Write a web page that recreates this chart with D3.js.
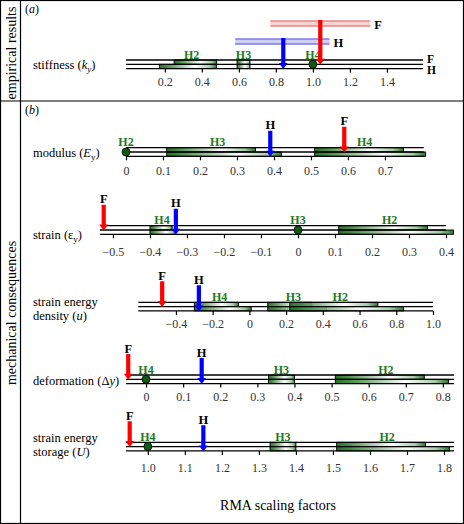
<!DOCTYPE html>
<html><head><meta charset="utf-8">
<script src="https://cdn.jsdelivr.net/npm/d3@7"></script>
<style>
html,body{margin:0;padding:0;background:#fff;}
svg{display:block;}
text{font-family:"Liberation Serif","DejaVu Serif","Times New Roman",serif;}
</style></head>
<body>
<script>
// ---------------- DATA ----------------
// bars: [group, lane, low, high]; points: [group, value]; arrows: [lane, value]
const stiffTicks = [0.2,0.4,0.6,0.8,1.0,1.2,1.4];
const stiffTickLabels = ["0.2","0.4","0.6","0.8","1.0","1.2","1.4"];
const stiffBars = [["H2","F",0.25,0.48],["H2","H",0.17,0.48],["H3","F",0.59,0.66],["H3","H",0.59,0.66]];
const stiffPoints = [["H4",1.0]];
const stiffArrows = [["F",1.04],["H",0.84]];
const stiffCI = [["F",0.77,1.31],["H",0.58,1.09]];

const modTicks = [0,0.1,0.2,0.3,0.4,0.5,0.6,0.7];
const modTickLabels = ["0","0.1","0.2","0.3","0.4","0.5","0.6","0.7"];
const modBars = [["H3","F",0.11,0.35],["H3","H",0.11,0.42],["H4","F",0.51,0.75],["H4","H",0.51,0.81]];
const modPoints = [["H2",0]];
const modArrows = [["F",0.59],["H",0.39]];

const strainTicks = [-0.5,-0.4,-0.3,-0.2,-0.1,0,0.1,0.2,0.3,0.4];
const strainTickLabels = ["\u22120.5","\u22120.4","\u22120.3","\u22120.2","\u22120.1","0","0.1","0.2","0.3","0.4"];
const strainBars = [["H4","F",-0.40,-0.34],["H4","H",-0.40,-0.33],["H2","F",0.11,0.35],["H2","H",0.11,0.42]];
const strainPoints = [["H3",0]];
const strainArrows = [["F",-0.525],["H",-0.33]];

const sedTicks = [-0.4,-0.2,0,0.2,0.4,0.6,0.8,1.0];
const sedTickLabels = ["\u22120.4","\u22120.2","0","0.2","0.4","0.6","0.8","1.0"];
const sedBars = [["H4","F",-0.30,-0.06],["H4","H",-0.30,0.01],["H3","F",0.10,0.34],["H3","H",0.10,0.42],["H2","F",0.22,0.70],["H2","H",0.22,0.84]];
const sedPoints = [];
const sedArrows = [["F",-0.475],["H",-0.275]];

const defTicks = [0,0.1,0.2,0.3,0.4,0.5,0.6,0.7,0.8];
const defTickLabels = ["0","0.1","0.2","0.3","0.4","0.5","0.6","0.7","0.8"];
const defBars = [["H3","F",0.33,0.40],["H3","H",0.33,0.40],["H2","F",0.51,0.75],["H2","H",0.51,0.815]];
const defPoints = [["H4",0]];
const defArrows = [["F",-0.048],["H",0.15]];

const stoTicks = [1.0,1.1,1.2,1.3,1.4,1.5,1.6,1.7,1.8];
const stoTickLabels = ["1.0","1.1","1.2","1.3","1.4","1.5","1.6","1.7","1.8"];
const stoBars = [["H3","F",1.33,1.40],["H3","H",1.33,1.40],["H2","F",1.51,1.75],["H2","H",1.51,1.815]];
const stoPoints = [["H4",1.0]];
const stoArrows = [["F",0.951],["H",1.15]];

// ---------------- LAYOUT ----------------
const W = 464, Hh = 524;
const rows = [
  {ticks:stiffTicks, labels:stiffTickLabels, bars:stiffBars, points:stiffPoints, arrows:stiffArrows, ci:stiffCI,
   dom:[-0.01,1.595], rng:[126,423], top:60, tickDy:17,
   name:[[["stiffness ("],["k","i"],["y","isub"],[")"]]], nameY:[69]},
  {ticks:modTicks, labels:modTickLabels, bars:modBars, points:modPoints, arrows:modArrows,
   dom:[0,0.805], rng:[126,423.8], top:147.7, tickDy:19,
   name:[[["modulus ("],["E","i"],["y","sub"],[")"]]], nameY:[157]},
  {ticks:strainTicks, labels:strainTickLabels, bars:strainBars, points:strainPoints, arrows:strainArrows,
   dom:[-0.535,0.40], rng:[100,446], top:225.7, tickDy:22,
   name:[[["strain ("],["\u03b5"],["y","sub"],[")"]]], nameY:[239]},
  {ticks:sedTicks, labels:sedTickLabels, bars:sedBars, points:sedPoints, arrows:sedArrows,
   dom:[-0.605,1.0], rng:[138.3,433], top:302.3, tickDy:17,
   name:[[["strain energy"]],[["density ("],["u","i"],[")"]]], nameY:[306,320]},
  {ticks:defTicks, labels:defTickLabels, bars:defBars, points:defPoints, arrows:defArrows,
   dom:[-0.054,0.83], rng:[126,454], top:375, tickDy:17,
   name:[[["deformation (\u0394"],["y","i"],[")"]]], nameY:[385]},
  {ticks:stoTicks, labels:stoTickLabels, bars:stoBars, points:stoPoints, arrows:stoArrows,
   dom:[0.941,1.827], rng:[126,454], top:442.3, tickDy:21,
   name:[[["strain energy"]],[["storage ("],["U","i"],[")"]]], nameY:[442,456]}
];
const laneH = 4.3;
const green = "#1d7a1d";

const svg = d3.select("body").append("svg").attr("width",W).attr("height",Hh)
  .attr("font-family","Liberation Serif, serif");
const defs = svg.append("defs");
const grad = defs.append("linearGradient").attr("id","gbar").attr("x1","0").attr("x2","1").attr("y1","0").attr("y2","0");
[[0,"#1c6a1c",0.95],[0.12,"#2f7f2f",0.9],[0.62,"#ffffff",0.9],[0.88,"#9cc89c",0.9],[1,"#1c6a1c",0.95]]
  .forEach(s=>grad.append("stop").attr("offset",s[0]).attr("stop-color",s[1]).attr("stop-opacity",s[2]));

// frame
svg.append("rect").attr("x",0.5).attr("y",0.5).attr("width",W-1).attr("height",Hh-1).attr("fill","none").attr("stroke","#000").attr("stroke-width",1.2);
svg.append("line").attr("x1",20.5).attr("x2",20.5).attr("y1",0).attr("y2",Hh).attr("stroke","#000").attr("stroke-width",1.2);
svg.append("line").attr("x1",0).attr("x2",W).attr("y1",101).attr("y2",101).attr("stroke","#000").attr("stroke-width",1.2);
svg.append("text").attr("transform","translate(15.5,53) rotate(-90)").attr("text-anchor","middle").attr("font-size",14).text("empirical results");
svg.append("text").attr("transform","translate(15.5,313) rotate(-90)").attr("text-anchor","middle").attr("font-size",14).text("mechanical consequences");
function panelTag(y, letter){
  const t = svg.append("text").attr("x",25).attr("y",y).attr("font-size",12);
  t.append("tspan").text("(");
  t.append("tspan").attr("font-style","italic").text(letter);
  t.append("tspan").text(")");
}
panelTag(13,"a"); panelTag(114,"b");
svg.append("text").attr("x",278).attr("y",510).attr("text-anchor","middle").attr("font-size",14).text("RMA scaling factors");

function richText(g, x, y, segs){
  const t = g.append("text").attr("x",x).attr("y",y).attr("font-size",12.5);
  let shifted = false;
  segs.forEach(s=>{
    const sp = t.append("tspan").text(s[0]);
    const st = s[1]||"";
    if(st.indexOf("i")===0) sp.attr("font-style","italic");
    if(st.indexOf("sub")>=0){ sp.attr("font-size",9).attr("dy",3); shifted=true; }
    else if(shifted){ sp.attr("dy",-3); shifted=false; }
  });
}

function arrow(g, x, y0, y1, color){
  const sw=2.1, hw=4.4, hl=6;
  const p = `M${x-sw},${y0} L${x+sw},${y0} L${x+sw},${y1-hl} L${x+hw},${y1-hl} L${x},${y1} L${x-hw},${y1-hl} L${x-sw},${y1-hl} Z`;
  g.append("path").attr("d",p).attr("fill",color);
}

rows.forEach((r,ri)=>{
  const g = svg.append("g");
  const x = d3.scaleLinear().domain(r.dom).range(r.rng);
  const t = r.top, m = t+laneH, b = t+2*laneH;
  const laneY = {F:t, H:m};
  // lane backgrounds
  g.append("rect").attr("x",x(r.dom[0])).attr("y",t).attr("width",x(r.dom[1])-x(r.dom[0])).attr("height",2*laneH).attr("fill","#fff");
  // bars
  g.selectAll("rect.bar").data(r.bars).join("rect").attr("class","bar")
    .attr("x",d=>x(d[2])).attr("width",d=>x(d[3])-x(d[2]))
    .attr("y",d=>laneY[d[1]]).attr("height",laneH)
    .attr("fill","url(#gbar)").attr("stroke","#000").attr("stroke-width",0.9);
  // lines
  [t,m,b].forEach(yy=>g.append("line").attr("x1",x(r.dom[0])).attr("x2",x(r.dom[1])).attr("y1",yy).attr("y2",yy)
     .attr("stroke","#000").attr("stroke-width",1.3));
  // axis
  const ax = d3.axisBottom(x).tickValues(r.ticks).tickSize(4).tickFormat((d,i)=>r.labels[i]);
  const axg = g.append("g").attr("transform",`translate(0,${b})`).call(ax);
  axg.attr("font-family",null);
  axg.select(".domain").remove();
  axg.selectAll(".tick line").attr("stroke","#000").attr("stroke-width",1.2);
  axg.selectAll(".tick text").attr("font-size",12).attr("fill","#333")
     .attr("y",r.tickDy).attr("dy",0);
  // points
  g.selectAll("circle.pt").data(r.points).join("circle").attr("class","pt")
    .attr("cx",d=>x(d[1])).attr("cy",m).attr("r",4).attr("fill","#0f5a0f").attr("stroke","#000").attr("stroke-width",0.8);
  // group labels
  const groups = Array.from(new Set(r.bars.map(d=>d[0]).concat(r.points.map(d=>d[0]))));
  groups.forEach(gr=>{
    let cx;
    const pt = r.points.find(d=>d[0]===gr);
    if(pt) cx = x(pt[1]);
    else cx = d3.mean(r.bars.filter(d=>d[0]===gr), d=>x((d[2]+d[3])/2));
    g.append("text").attr("x",cx).attr("y",t-1.5).attr("text-anchor","middle").attr("font-size",12)
      .attr("font-weight","bold").attr("fill",green).text(gr);
  });
  // arrows
  if(r.ci){
    const ciY = {F:t-39, H:t-21};
    const ciCol = {F:["#e98585","#f7d3d3"], H:["#7a7af0","#cfcff8"]};
    r.ci.forEach(c=>{
      const y = ciY[c[0]];
      g.append("rect").attr("x",x(c[1])).attr("y",y).attr("width",x(c[2])-x(c[1])).attr("height",5).attr("fill",ciCol[c[0]][1]);
      [y,y+5].forEach(yy=>g.append("line").attr("x1",x(c[1])).attr("x2",x(c[2])).attr("y1",yy).attr("y2",yy)
        .attr("stroke",ciCol[c[0]][0]).attr("stroke-width",1.3));
      g.append("text").attr("x",x(c[2])+4).attr("y",y+8).attr("font-size",12.5).attr("font-weight","bold").text(c[0]);
    });
    r.arrows.forEach(a=>{
      if(a[0]==="F") arrow(g, x(a[1]), t-40, m+0.5, "#ff0000");
      else arrow(g, x(a[1]), t-22, b+0.5, "#0000ff");
    });
    g.append("text").attr("x",x(r.dom[1])+4).attr("y",t+3).attr("font-size",11.5).attr("font-weight","bold").text("F");
    g.append("text").attr("x",x(r.dom[1])+4).attr("y",b+5.5).attr("font-size",11.5).attr("font-weight","bold").text("H");
  } else {
    r.arrows.forEach(a=>{
      if(a[0]==="F"){
        arrow(g, x(a[1]), t-21, m+0.5, "#ff0000");
        g.append("text").attr("x",x(a[1])).attr("y",t-22.5).attr("text-anchor","middle").attr("font-size",12.5).attr("font-weight","bold").text("F");
      } else {
        arrow(g, x(a[1]), t-17, b+0.5, "#0000ff");
        g.append("text").attr("x",x(a[1])).attr("y",t-18.5).attr("text-anchor","middle").attr("font-size",12.5).attr("font-weight","bold").text("H");
      }
    });
  }
  // row names
  r.name.forEach((segs,i)=>richText(g, 33, r.nameY[i], segs));
});
</script>
</body></html>
